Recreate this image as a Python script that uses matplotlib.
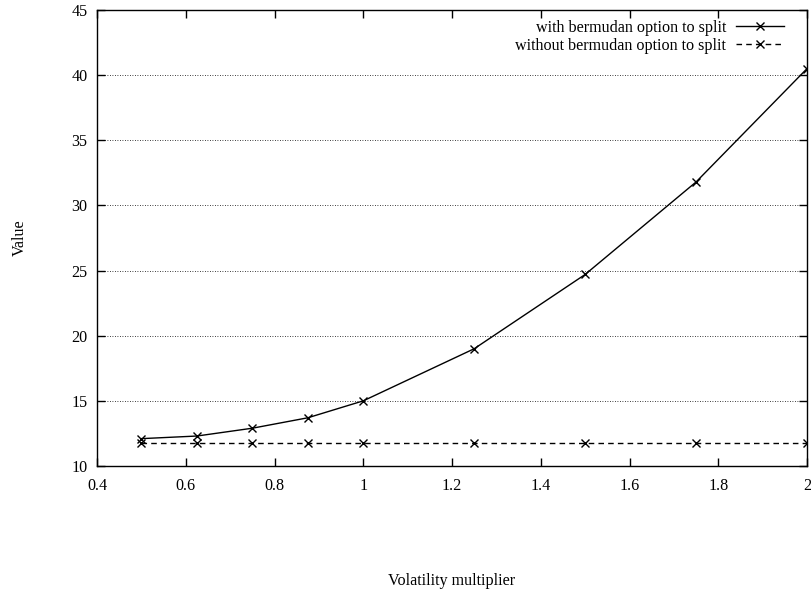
import matplotlib
matplotlib.use("Agg")
from matplotlib import pyplot as plt
from matplotlib.ticker import FuncFormatter

vol_mult = [0.5, 0.625, 0.75, 0.875, 1.0, 1.25, 1.5, 1.75, 2.0]
with_split = [12.1, 12.3, 12.9, 13.7, 15.0, 19.0, 24.7, 31.8, 40.5]
without_split = [11.8, 11.8, 11.8, 11.8, 11.8, 11.8, 11.8, 11.8, 11.8]


def main():
    plt.rcParams['font.family'] = ['Liberation Serif', 'DejaVu Serif']
    plt.rcParams['font.size'] = 11.6

    fig = plt.figure(figsize=(8.11, 5.98), dpi=100)
    ax = fig.add_axes([97 / 811, 1 - 466 / 598, 710 / 811, 456 / 598])

    ax.plot(vol_mult, with_split, color='black', linestyle='-', linewidth=1,
            marker='x', markersize=6, markeredgewidth=1,
            label='with bermudan option to split')
    ax.plot(vol_mult, without_split, color='black', linestyle=(0, (4, 3)), linewidth=1,
            marker='x', markersize=6, markeredgewidth=1,
            label='without bermudan option to split')

    ax.set_xlim(0.4, 2.0)
    ax.set_ylim(10, 45)
    ax.set_xticks([0.4, 0.6, 0.8, 1.0, 1.2, 1.4, 1.6, 1.8, 2.0])
    ax.set_yticks(range(10, 50, 5))
    fmt = FuncFormatter(lambda v, p: '%g' % v)
    ax.xaxis.set_major_formatter(fmt)
    ax.yaxis.set_major_formatter(fmt)
    ax.tick_params(direction='in', top=True, right=True, length=6, width=1)
    ax.tick_params(axis='x', pad=9)
    ax.tick_params(axis='y', pad=7)
    ax.yaxis.grid(True, linestyle=(0, (1, 2)), color='black', linewidth=0.6)
    for s in ax.spines.values():
        s.set_linewidth(1)

    ax.set_xlabel('Volatility multiplier')
    ax.set_ylabel('Value')
    ax.xaxis.set_label_coords(0.5, -0.235)
    ax.yaxis.set_label_coords(-0.098, 0.5)

    ax.legend(loc='upper right', bbox_to_anchor=(0.9676, 0.978),
              frameon=False, markerfirst=False,
              handlelength=3.0, borderaxespad=0, labelspacing=0.12,
              handletextpad=0.6, borderpad=0)

    fig.savefig('out.png', dpi=100)


if __name__ == "__main__":
    main()
